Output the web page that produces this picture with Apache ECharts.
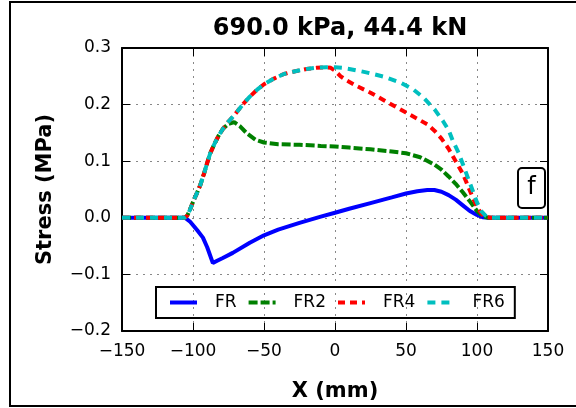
<!DOCTYPE html>
<html><head><meta charset="utf-8">
<script src="https://cdn.jsdelivr.net/npm/echarts@6/dist/echarts.min.js"></script>
<style>html,body{margin:0;padding:0;background:#fff}#c{width:576px;height:408px}</style>
</head><body><div id="c"></div>
<script>
const seriesNames = ['FR', 'FR2', 'FR4', 'FR6'];
const xTicks = [-150, -100, -50, 0, 50, 100, 150];
const yTicks = [-0.2, -0.1, 0.0, 0.1, 0.2, 0.3];

const frX = [-150,-120,-107,-105,-102,-97,-93,-90,-86,-83,-79,-72,-60,-50,-40,-25,-10,0,10,25,40,50,58,65,70,75,80,85,90,95,100,104,108,130,150];
const frY = [0,0,0,-0.001,-0.007,-0.022,-0.035,-0.052,-0.080,-0.076,-0.071,-0.062,-0.044,-0.031,-0.021,-0.009,0.002,0.009,0.016,0.026,0.036,0.043,0.047,0.049,0.049,0.046,0.040,0.032,0.022,0.012,0.005,0.001,0,0,0];

const fr2X = [-150,-110,-106,-104,-102,-100,-97,-95,-92,-90,-88,-85,-82,-79,-75,-71,-67,-62,-56,-50,-40,-25,-10,0,10,25,40,50,60,70,75,80,85,90,95,100,104,108,150];
const fr2Y = [0,0,0,0.004,0.015,0.028,0.045,0.057,0.080,0.097,0.113,0.130,0.145,0.157,0.166,0.169,0.162,0.149,0.138,0.133,0.130,0.129,0.127,0.126,0.124,0.121,0.117,0.114,0.107,0.094,0.085,0.073,0.060,0.045,0.029,0.012,0.003,0,0];

const fr4X = [-150,-110,-106,-104,-102,-100,-97,-95,-92,-90,-88,-85,-82,-79,-75,-70,-65,-60,-55,-50,-43,-36,-28,-20,-13,-6,-3,0,4,8,16,25,35,50,58,65,70,75,80,85,90,95,98,101,104,107,110,150];
const fr4Y = [0,0,0,0.004,0.015,0.028,0.045,0.057,0.080,0.097,0.113,0.130,0.145,0.157,0.170,0.184,0.200,0.214,0.226,0.236,0.246,0.254,0.259,0.263,0.265,0.266,0.265,0.260,0.250,0.243,0.232,0.221,0.207,0.186,0.175,0.165,0.154,0.140,0.122,0.100,0.078,0.048,0.030,0.015,0.005,0.001,0,0];

const fr6X = [-150,-110,-106,-104,-102,-100,-97,-95,-92,-90,-88,-85,-82,-79,-75,-70,-65,-60,-55,-50,-43,-36,-28,-20,-13,-6,0,5,10,22,35,46,55,62,70,76,80,83,87,90,94,97,100,103,106,109,150];
const fr6Y = [0,0,0,0.004,0.015,0.028,0.045,0.057,0.080,0.097,0.113,0.130,0.145,0.157,0.170,0.184,0.200,0.214,0.226,0.236,0.246,0.254,0.259,0.263,0.265,0.266,0.266,0.265,0.263,0.257,0.249,0.239,0.227,0.213,0.192,0.171,0.155,0.136,0.115,0.095,0.068,0.048,0.027,0.012,0.004,0,0];

const colors = ['#0000ff', '#008000', '#ff0000', '#00bfbf'];
const dashes = ['solid', [9, 3], [7, 5], [8, 6]];

function pairs(xs, ys) { return xs.map((x, i) => [x, ys[i]]); }
const allData = [pairs(frX, frY), pairs(fr2X, fr2Y), pairs(fr4X, fr4Y), pairs(fr6X, fr6Y)];

const FONT = 'DejaVu Sans';
const minus = s => String(s).replace('-', '\u2212');

const chart = echarts.init(document.getElementById('c'), null, {renderer: 'canvas'});

const baseAxisLine = {show: true, onZero: false, lineStyle: {color: '#000', width: 2}};
const tick = {show: true, inside: true, length: 8, lineStyle: {color: '#000', width: 1}};
const grid = {show: true, lineStyle: {color: '#888', width: 1, type: [2, 5]}};

chart.setOption({
  animation: false,
  backgroundColor: '#fff',
  title: {
    text: '690.0 kPa, 44.4 kN',
    left: 335, top: 12, textAlign: 'center',
    textStyle: {fontFamily: FONT, fontSize: 24, fontWeight: 'bold', color: '#000'}
  },
  grid: {left: 122, right: 28, top: 48, bottom: 77},
  legend: {
    data: seriesNames,
    left: 156, top: 287,
    orient: 'horizontal',
    padding: [7, 10, 7, 12],
    itemWidth: 27, itemHeight: 14, itemGap: 10,
    itemStyle: {opacity: 0, borderWidth: 0},
    lineStyle: {width: 4},
    borderColor: '#000', borderWidth: 2, borderRadius: 0,
    textStyle: {fontFamily: FONT, fontSize: 17, color: '#000', padding: [0, 0, 0, 13]}
  },
  xAxis: [{
    type: 'value', min: -150, max: 150, interval: 50,
    axisLine: baseAxisLine, axisTick: tick, splitLine: grid,
    axisLabel: {fontFamily: FONT, fontSize: 17, color: '#000', margin: 12,
      formatter: v => xTicks.includes(v) ? minus(v) : ''},
    name: 'X (mm)', nameLocation: 'middle', nameGap: 50,
    nameTextStyle: {fontFamily: FONT, fontSize: 21, fontWeight: 'bold', color: '#000'}
  }, {
    type: 'value', position: 'top', min: -150, max: 150, interval: 50,
    axisLine: baseAxisLine, axisTick: tick, splitLine: {show: false}, axisLabel: {show: false}
  }],
  yAxis: [{
    type: 'value', min: -0.2, max: 0.3, interval: 0.1,
    axisLine: baseAxisLine, axisTick: tick, splitLine: grid,
    axisLabel: {fontFamily: FONT, fontSize: 17, color: '#000', margin: 11,
      formatter: v => minus(v.toFixed(1))},
    name: 'Stress (MPa)', nameLocation: 'middle', nameGap: 66, nameRotate: 90,
    nameTextStyle: {fontFamily: FONT, fontSize: 21, fontWeight: 'bold', color: '#000'}
  }, {
    type: 'value', position: 'right', min: -0.2, max: 0.3, interval: 0.1,
    axisLine: baseAxisLine, axisTick: tick, splitLine: {show: false}, axisLabel: {show: false}
  }],
  series: seriesNames.map((n, i) => ({
    name: n, type: 'line', data: allData[i], xAxisIndex: 0, yAxisIndex: 0,
    symbol: 'none', smooth: false, z: 2 + i,
    lineStyle: {color: colors[i], width: 4, type: dashes[i], cap: 'butt'},
    itemStyle: {color: colors[i]}
  })),
  graphic: [
    {type: 'polyline', silent: true,
      shape: {points: [[600, 2], [10, 2], [10, 406], [600, 406]]},
      style: {fill: 'none', stroke: '#000', lineWidth: 2}, z: 100},
    {type: 'rect', shape: {x: 518, y: 168, width: 27, height: 40, r: 4},
      style: {fill: '#fff', stroke: '#000', lineWidth: 2}, z: 100},
    {type: 'text', x: 531.5, y: 188,
      style: {text: 'f', fontFamily: FONT, fontSize: 24, fill: '#000', align: 'center', verticalAlign: 'middle'}, z: 101}
  ]
});
</script></body></html>
